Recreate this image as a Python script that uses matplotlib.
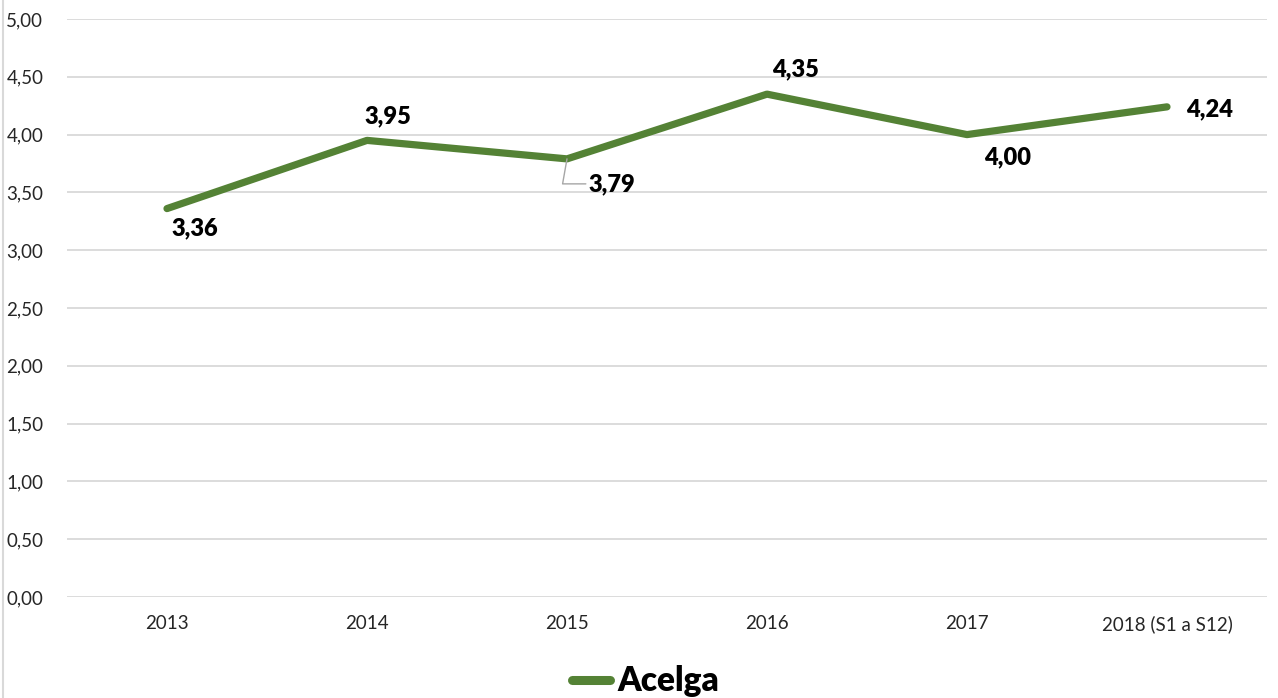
import matplotlib.pyplot as plt
from matplotlib.lines import Line2D

plt.rcParams['font.family'] = ['Lato', 'DejaVu Sans']

years = ["2013", "2014", "2015", "2016", "2017", "2018 (S1 a S12)"]
acelga = [3.36, 3.95, 3.79, 4.35, 4.00, 4.24]
value_labels = ["3,36", "3,95", "3,79", "4,35", "4,00", "4,24"]
y_ticks = [0, 0.5, 1, 1.5, 2, 2.5, 3, 3.5, 4, 4.5, 5]
y_tick_labels = ["0,00", "0,50", "1,00", "1,50", "2,00", "2,50",
                 "3,00", "3,50", "4,00", "4,50", "5,00"]

green = '#548235'
grid_col = '#d9d9d9'

fig = plt.figure(figsize=(12.78, 6.98), dpi=100)
ax = fig.add_axes([67 / 1278, 1 - 597 / 698, 1200 / 1278, 578 / 698])

x = list(range(len(years)))
ax.plot(x, acelga, color=green, lw=5.2, solid_capstyle='round',
        solid_joinstyle='round', zorder=3)

ax.set_xlim(-0.5, len(years) - 0.5)
ax.set_ylim(0, 5)
ax.set_yticks(y_ticks)
ax.set_yticklabels(y_tick_labels)
ax.set_xticks(x)
ax.set_xticklabels(years)
ax.grid(axis='y', color=grid_col, lw=1.3)
ax.set_axisbelow(True)
for s in ax.spines.values():
    s.set_visible(False)
ax.tick_params(axis='both', length=0, labelsize=13.5, colors='#262626')
ax.tick_params(axis='y', pad=17)
ax.tick_params(axis='x', pad=13)

# data label offsets in pixels (Excel style placement)
offsets = [(28, -20), (21, 24), (45, -25), (28, 25), (41, -23), (43, -2)]
for i, (v, lab) in enumerate(zip(acelga, value_labels)):
    dx, dy = offsets[i]
    if i == 2:
        ax.annotate(lab, (i, v), xytext=(dx, dy), textcoords='offset pixels',
                    ha='center', va='center', fontsize=17, fontweight='heavy',
                    color='black',
                    arrowprops=dict(arrowstyle='-', color='#a6a6a6', lw=1,
                                    shrinkA=0, shrinkB=0, relpos=(0, 0.5),
                                    connectionstyle='angle,angleA=0,angleB=80'))
    else:
        ax.annotate(lab, (i, v), xytext=(dx, dy), textcoords='offset pixels',
                    ha='center', va='center', fontsize=17, fontweight='heavy',
                    color='black')

# chart border on the left
fig.add_artist(Line2D([3 / 1278, 3 / 1278], [0, 1], color=grid_col, lw=1.5))

handle = Line2D([], [], color=green, lw=6.5, solid_capstyle='round')
fig.legend([handle], ['Acelga'], loc='lower center', bbox_to_anchor=(0.505, -0.042),
           frameon=False, handlelength=1.15, handletextpad=0.2,
           prop={'size': 24, 'weight': 'heavy'})

fig.savefig('out.png', dpi=100)
